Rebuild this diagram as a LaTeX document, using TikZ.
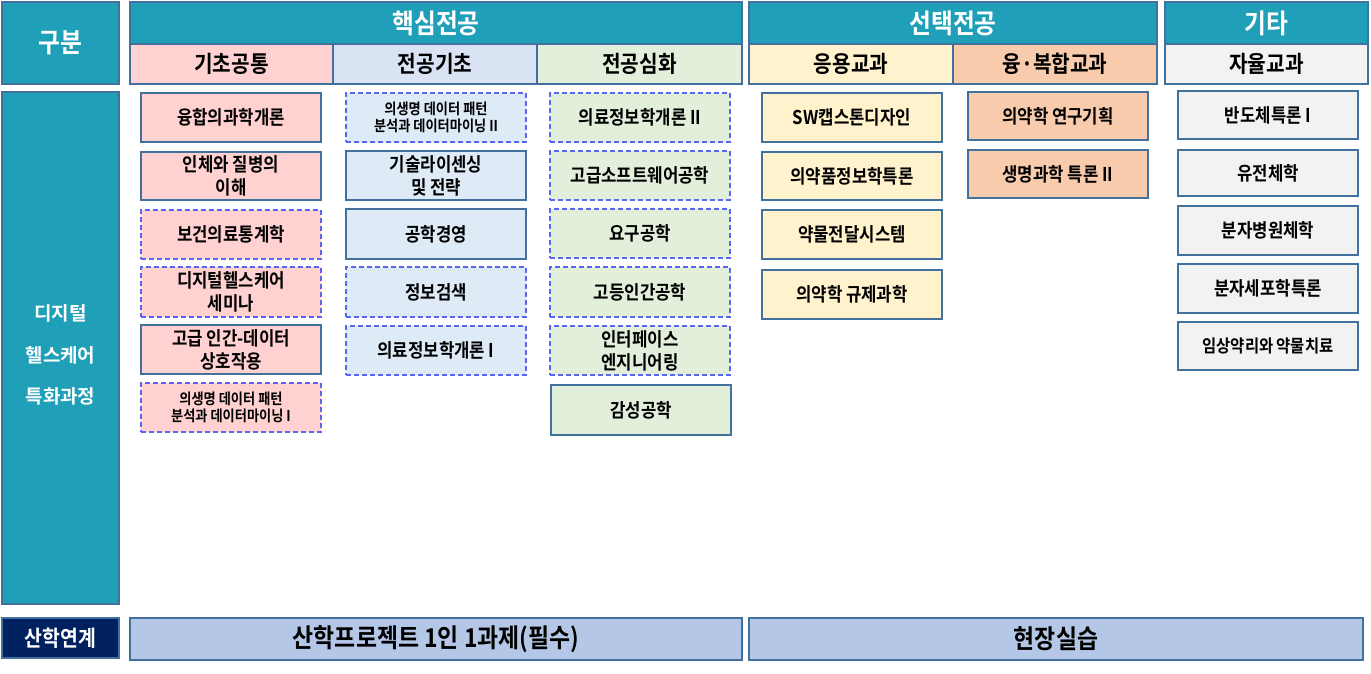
\documentclass[tikz,border=0pt]{standalone}
\usepackage{fontspec}
\setmainfont{Noto Sans CJK KR}[BoldFont={Noto Sans CJK KR Bold}]
\newfontfamily\kcond{Noto Sans CJK KR}[FakeStretch=0.88, BoldFont={Noto Sans CJK KR Bold}, BoldFeatures={FakeStretch=0.88}]
\definecolor{teal}{RGB}{32,159,185}
\definecolor{bordc}{RGB}{65,113,156}
\definecolor{dashc}{RGB}{88,102,245}
\definecolor{pinkc}{RGB}{255,209,209}
\definecolor{bluehd}{RGB}{218,227,243}
\definecolor{bluebx}{RGB}{222,235,247}
\definecolor{greenc}{RGB}{226,239,218}
\definecolor{yellowc}{RGB}{255,242,204}
\definecolor{orangec}{RGB}{248,203,173}
\definecolor{grayc}{RGB}{242,242,242}
\definecolor{navyc}{RGB}{0,32,96}
\definecolor{botc}{RGB}{180,199,231}
\newcommand\bx[7]{\node[#6, minimum width={#4pt-#2pt}, minimum height={#5pt-#3pt}] (#1) at ({(#2+#4)/2},{(#3+#5)/2}) {#7};}
\tikzset{
  base/.style={draw=bordc, line width=2pt, inner sep=0pt, align=center, font=\kcond\bfseries\fontsize{19}{23}\selectfont},
  hdr/.style={base, fill=teal, line width=2.5pt, text=white, font=\kcond\bfseries\fontsize{27}{30}\selectfont},
  sub/.style={base, line width=2.5pt, font=\kcond\bfseries\fontsize{23}{26}\selectfont},
  solidbox/.style={base},
  dashbox/.style={base, draw=dashc, dash pattern=on 5pt off 3pt},
  small/.style={font=\kcond\bfseries\fontsize{15}{17}\selectfont},
  bottom/.style={base, fill=botc, font=\kcond\bfseries\fontsize{26}{30}\selectfont},
  sidetext/.style={text=white, align=center, inner sep=0pt, font=\bfseries\fontsize{19}{41.5}\selectfont},
}
\begin{document}
\begin{tikzpicture}[x=1pt,y=-1pt]
\useasboundingbox (0,0) rectangle (1371,673);
% header row
\bx{gubun}{2}{2}{119}{84}{hdr}{구분}
\bx{hs}{130}{2}{742}{44}{hdr}{핵심전공}
\bx{hs1}{130}{44}{333}{84}{sub,fill=pinkc}{기초공통}
\bx{hs2}{333}{44}{537}{84}{sub,fill=bluehd}{전공기초}
\bx{hs3}{537}{44}{742}{84}{sub,fill=greenc}{전공심화}
\bx{st}{749}{2}{1157}{44}{hdr}{선택전공}
\bx{st1}{749}{44}{953}{84}{sub,fill=yellowc}{응용교과}
\bx{st2}{953}{44}{1157}{84}{sub,fill=orangec}{융·복합교과}
\bx{gt}{1165}{2}{1368}{44}{hdr}{기타}
\bx{gt1}{1165}{44}{1368}{84}{sub,fill=grayc}{자율교과}
% left column
\bx{side}{2}{92}{119}{604}{hdr}{}
\node[sidetext] (sidetxt) at ([yshift=-7pt]side.center) {디지털\\헬스케어\\특화과정};
% column 1
\bx{a1}{141}{93}{321}{142}{solidbox,fill=pinkc}{융합의과학개론}
\bx{a2}{141}{152}{321}{200}{solidbox,fill=pinkc}{인체와 질병의\\이해}
\bx{a3}{141}{210}{321}{259}{dashbox,fill=pinkc}{보건의료통계학}
\bx{a4}{141}{267}{321}{317}{dashbox,fill=pinkc}{디지털헬스케어\\세미나}
\bx{a5}{141}{325}{321}{374}{solidbox,fill=pinkc}{고급 인간-데이터\\상호작용}
\bx{a6}{141}{383}{321}{432}{dashbox,fill=pinkc,small}{의생명 데이터 패턴\\분석과 데이터마이닝 I}
% column 2
\bx{b1}{346}{93}{526}{142}{dashbox,fill=bluebx,small}{의생명 데이터 패턴\\분석과 데이터마이닝 II}
\bx{b2}{346}{151}{526}{200}{solidbox,fill=bluebx}{기술라이센싱\\및 전략}
\bx{b3}{346}{209}{526}{259}{solidbox,fill=bluebx}{공학경영}
\bx{b4}{346}{267}{526}{317}{dashbox,fill=bluebx}{정보검색}
\bx{b5}{346}{326}{526}{375}{dashbox,fill=bluebx}{의료정보학개론 I}
% column 3
\bx{c1}{550}{93}{730}{142}{dashbox,fill=greenc}{의료정보학개론 II}
\bx{c2}{550}{151}{730}{200}{dashbox,fill=greenc}{고급소프트웨어공학}
\bx{c3}{550}{209}{730}{258}{dashbox,fill=greenc}{요구공학}
\bx{c4}{550}{267}{730}{317}{dashbox,fill=greenc}{고등인간공학}
\bx{c5}{550}{326}{730}{375}{dashbox,fill=greenc}{인터페이스\\엔지니어링}
\bx{c6}{551}{385}{731}{435}{solidbox,fill=greenc}{감성공학}
% column 4
\bx{d1}{762}{93}{942}{142}{solidbox,fill=yellowc}{SW캡스톤디자인}
\bx{d2}{762}{152}{942}{200}{solidbox,fill=yellowc}{의약품정보학특론}
\bx{d3}{762}{210}{942}{259}{solidbox,fill=yellowc}{약물전달시스템}
\bx{d4}{762}{270}{942}{319}{solidbox,fill=yellowc}{의약학 규제과학}
% column 5
\bx{e1}{968}{92}{1148}{140}{solidbox,fill=orangec}{의약학 연구기획}
\bx{e2}{968}{150}{1148}{198}{solidbox,fill=orangec}{생명과학 특론 II}
% column 6
\bx{f1}{1178}{91}{1358}{139}{solidbox,fill=grayc}{반도체특론 I}
\bx{f2}{1178}{150}{1358}{196}{solidbox,fill=grayc}{유전체학}
\bx{f3}{1178}{206}{1358}{255}{solidbox,fill=grayc}{분자병원체학}
\bx{f4}{1178}{264}{1358}{313}{solidbox,fill=grayc}{분자세포학특론}
\bx{f5}{1178}{322}{1358}{370}{solidbox,fill=grayc,font=\kcond\bfseries\fontsize{17.5}{21}\selectfont}{임상약리와 약물치료}
% bottom row
\bx{sh}{2}{618}{119}{658}{hdr,fill=navyc,font=\kcond\bfseries\fontsize{22}{24}\selectfont}{산학연계}
\bx{p1}{130}{618}{742}{660}{bottom}{산학프로젝트 1인 1과제(필수)}
\bx{p2}{749}{618}{1363}{660}{bottom}{현장실습}
\end{tikzpicture}
\end{document}
